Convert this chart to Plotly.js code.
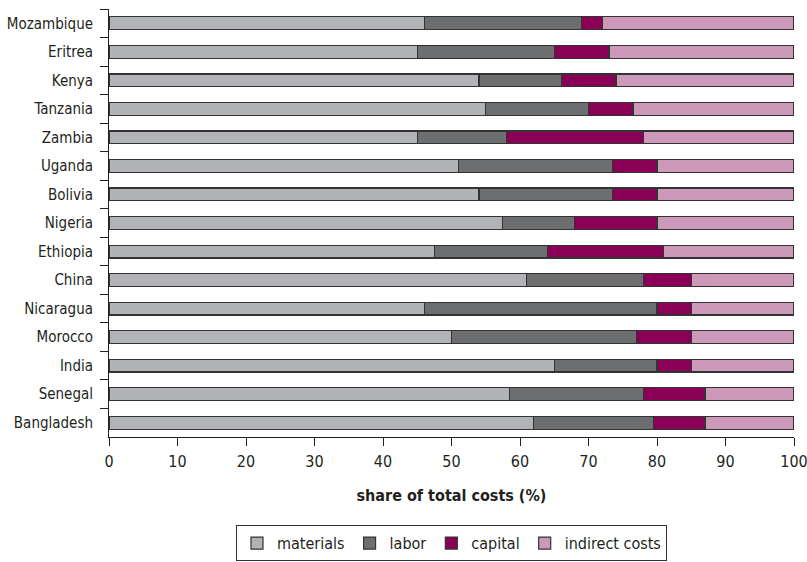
<!DOCTYPE html>
<html>
<head>
<meta charset="utf-8">
<script src="https://cdn.plot.ly/plotly-3.0.1.min.js"></script>
<style>html,body{margin:0;padding:0;background:#fff;}#chart{width:807px;height:562px;}</style>
</head>
<body>
<div id="chart"></div>
<script>
const countries = ["Mozambique","Eritrea","Kenya","Tanzania","Zambia","Uganda","Bolivia","Nigeria","Ethiopia","China","Nicaragua","Morocco","India","Senegal","Bangladesh"];
const materials = [46, 45, 54, 55, 45, 51, 54, 57.5, 47.5, 61, 46, 50, 65, 58.5, 62];
const labor     = [23, 20, 12, 15, 13, 22.5, 19.5, 10.5, 16.5, 17, 34, 27, 15, 19.5, 17.5];
const capital   = [3, 8, 8, 6.5, 20, 6.5, 6.5, 12, 17, 7, 5, 8, 5, 9, 7.5];
const indirect  = [28, 27, 26, 23.5, 22, 20, 20, 20, 19, 15, 15, 15, 15, 13, 13];
const xTicks = [0,10,20,30,40,50,60,70,80,90,100];

const FONT = "'DejaVu Sans Condensed','Liberation Sans Narrow','Roboto Condensed','Arial Narrow',sans-serif";
const series = [
  {name: "materials", values: materials, color: "#b1b3b6"},
  {name: "labor", values: labor, color: "#6d6e70"},
  {name: "capital", values: capital, color: "#8b0057"},
  {name: "indirect costs", values: indirect, color: "#cc9ab8"}
];
const traces = series.map(s => ({
  type: "bar",
  orientation: "h",
  name: s.name,
  y: countries,
  x: s.values,
  width: 0.45,
  marker: {color: s.color, line: {color: "#333333", width: 1.2}},
  hoverinfo: "x+y+name"
}));

const layout = {
  width: 807, height: 562,
  barmode: "stack",
  paper_bgcolor: "#ffffff",
  plot_bgcolor: "#ffffff",
  margin: {l: 109, r: 13, t: 9, b: 125, autoexpand: false},
  font: {family: FONT, size: 15, color: "#231f20"},
  showlegend: true,
  legend: {
    orientation: "h", x: 0.5, xanchor: "center", y: -0.206, yanchor: "top",
    bordercolor: "#333333", borderwidth: 1, font: {family: FONT, size: 16, color: "#231f20"},
    traceorder: "normal", itemclick: false
  },
  xaxis: {
    range: [0, 100], tickvals: xTicks, ticktext: xTicks.map(String),
    showgrid: false, zeroline: false, showline: true, linecolor: "#231f20", linewidth: 1,
    ticks: "outside", ticklen: 8, tickcolor: "#231f20", ticklabelstandoff: 2,
    ticklabeloverflow: "allow",
    tickfont: {family: FONT, size: 16, color: "#231f20"},
    title: {text: "<b>share of total costs (%)</b>", font: {family: FONT, size: 16, color: "#231f20"}, standoff: 19}
  },
  yaxis: {
    type: "category", categoryorder: "array", categoryarray: countries,
    autorange: "reversed",
    showgrid: false, zeroline: false, showline: true, linecolor: "#231f20", linewidth: 1,
    ticks: "outside", ticklen: 8, tickcolor: "#231f20", tickson: "boundaries",
    tickfont: {family: FONT, size: 15, color: "#231f20"}, ticklabelstandoff: 12
  }
};
Plotly.newPlot("chart", traces, layout, {displayModeBar: false, staticPlot: true});
</script>
</body>
</html>
